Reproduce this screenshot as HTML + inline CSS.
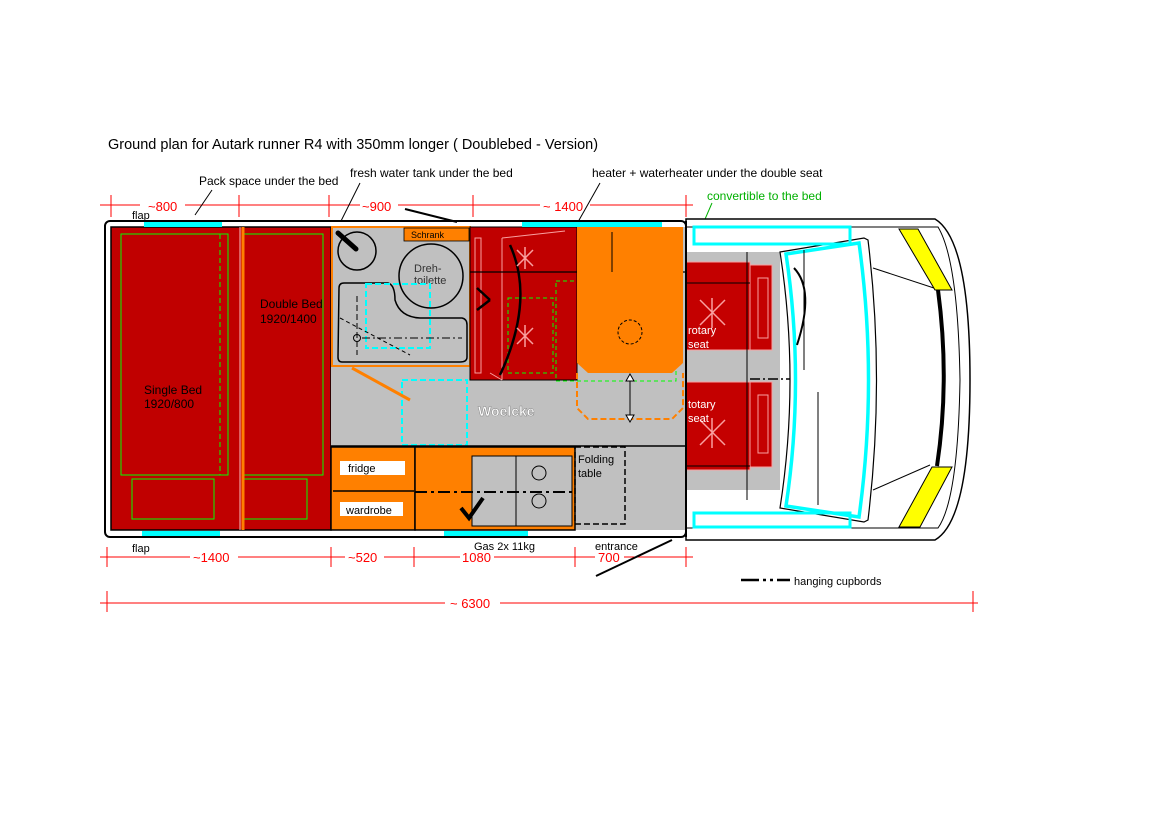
<!DOCTYPE html>
<html><head><meta charset="utf-8"><style>
html,body{margin:0;padding:0;background:#fff}
svg{display:block;font-family:"Liberation Sans",Arial,sans-serif}
</style></head><body>
<svg width="1169" height="826" viewBox="0 0 1169 826" xmlns="http://www.w3.org/2000/svg">
<rect width="1169" height="826" fill="#fff"/>
<text x="108" y="149" font-size="14.5">Ground plan for Autark runner R4 with 350mm longer  (  Doublebed - Version)</text>
<text x="199" y="185" font-size="12">Pack space under the bed</text>
<text x="350" y="177" font-size="12">fresh water tank under the bed</text>
<text x="592" y="177" font-size="12">heater + waterheater under the double seat</text>
<text x="707" y="200" font-size="12" fill="#00b000">convertible to the bed</text>
<!-- top dims -->
<g stroke="#f00" stroke-width="1">
<line x1="100" y1="205" x2="140" y2="205"/><line x1="185" y1="205" x2="360" y2="205"/><line x1="398" y1="205" x2="540" y2="205"/><line x1="590" y1="205" x2="693" y2="205"/>
<line x1="111" y1="195" x2="111" y2="217"/><line x1="239" y1="195" x2="239" y2="217"/><line x1="329" y1="195" x2="329" y2="217"/><line x1="473" y1="195" x2="473" y2="217"/><line x1="686" y1="195" x2="686" y2="217"/>
<line x1="100" y1="557" x2="190" y2="557"/><line x1="238" y1="557" x2="345" y2="557"/><line x1="384" y1="557" x2="460" y2="557"/><line x1="494" y1="557" x2="595" y2="557"/><line x1="624" y1="557" x2="693" y2="557"/>
<line x1="107" y1="547" x2="107" y2="567"/><line x1="331" y1="547" x2="331" y2="567"/><line x1="414" y1="547" x2="414" y2="567"/><line x1="575" y1="547" x2="575" y2="567"/><line x1="686" y1="547" x2="686" y2="567"/>
<line x1="100" y1="603" x2="445" y2="603"/><line x1="500" y1="603" x2="978" y2="603"/>
<line x1="107" y1="591" x2="107" y2="612"/><line x1="973" y1="591" x2="973" y2="612"/>
</g>
<g fill="#f00" font-size="13">
<text x="148" y="211">~800</text><text x="362" y="211">~900</text><text x="543" y="211">~ 1400</text>
<text x="193" y="562">~1400</text><text x="348" y="562">~520</text><text x="462" y="562">1080</text><text x="598" y="562">700</text>
<text x="450" y="608">~ 6300</text>
</g>
<text x="132" y="219" font-size="11">flap</text>
<text x="132" y="552" font-size="11">flap</text>
<text x="474" y="550" font-size="11">Gas 2x 11kg</text>
<text x="595" y="550" font-size="11">entrance</text>
<line x1="741" y1="580" x2="790" y2="580" stroke="#000" stroke-width="2.5" stroke-dasharray="18,4,3,4,3,4"/>
<text x="794" y="585" font-size="11">hanging cupbords</text>
<!-- leader lines -->
<g stroke="#000" stroke-width="1"><line x1="195" y1="215" x2="212" y2="190"/><line x1="323" y1="257" x2="360" y2="183"/><line x1="565" y1="245" x2="600" y2="183"/></g>
<line x1="683" y1="270" x2="712" y2="203" stroke="#00b000"/>
<!-- cab -->
<path d="M686 219 L935 219 Q970 240 970 380 Q970 520 935 540 L686 540 Z" fill="#fff" stroke="#000" stroke-width="1.5"/>
<path d="M686 227 L938 227 Q958 260 960 380 Q958 500 938 528 L686 528" fill="none" stroke="#000" stroke-width="1"/>
<rect x="686" y="252" width="94" height="238" fill="#c0c0c0"/>
<path d="M780 252 L864 238 L868 240 Q885 380 868 520 L864 522 L780 508 Q800 380 780 252Z" fill="#fff" stroke="#000" stroke-width="1.2"/>
<path d="M786 254 L859 243 Q878 380 859 517 L786 506 Q805 380 786 254Z" fill="none" stroke="#0ff" stroke-width="3.5"/>
<line x1="804" y1="250" x2="804" y2="370" stroke="#000"/><line x1="804" y1="370" x2="818" y2="392"/><line x1="818" y1="392" x2="818" y2="505" stroke="#000"/>
<path d="M794 268 Q815 290 797 345" fill="none" stroke="#000" stroke-width="2"/>
<line x1="873" y1="268" x2="940" y2="290" stroke="#000"/><line x1="873" y1="490" x2="930" y2="465" stroke="#000"/>
<path d="M938 290 Q950 380 937 466" fill="none" stroke="#000" stroke-width="4"/>
<polygon points="899,229 918,229 952,290 935,290" fill="#ff0" stroke="#000"/>
<polygon points="932,467 952,467 920,527 899,527" fill="#ff0" stroke="#000"/>
<rect x="694" y="227" width="156" height="17" fill="none" stroke="#0ff" stroke-width="3"/>
<rect x="694" y="513" width="156" height="14" fill="none" stroke="#0ff" stroke-width="3"/>
<!-- cab seats -->
<g fill="#c40000" stroke="#f9a0a0" stroke-width="1">
<rect x="686" y="262" width="64" height="88"/><rect x="750" y="265" width="22" height="85"/><rect x="758" y="278" width="10" height="60" fill="none"/>
<rect x="686" y="382" width="64" height="88"/><rect x="750" y="382" width="22" height="85"/><rect x="758" y="395" width="10" height="58" fill="none"/>
</g>
<g stroke="#f9a0a0" stroke-width="1.5"><path d="M700 300 l25 25 M725 300 l-25 25 M712 298 v30"/><path d="M700 420 l25 25 M725 420 l-25 25 M712 418 v30"/></g>
<g fill="#fff" font-size="11"><text x="688" y="334">rotary</text><text x="688" y="348">seat</text><text x="688" y="408">totary</text><text x="688" y="422">seat</text></g>
<line x1="686" y1="283" x2="750" y2="283" stroke="#000"/><line x1="686" y1="466" x2="750" y2="466" stroke="#000"/>
<line x1="747" y1="252" x2="747" y2="500" stroke="#000"/>
<line x1="750" y1="379" x2="790" y2="379" stroke="#000" stroke-width="1.5" stroke-dasharray="10,3,2,3"/>
<!-- body -->
<rect x="105" y="221" width="581" height="316" rx="5" fill="#fff" stroke="#000" stroke-width="2"/>
<rect x="111" y="227" width="220" height="303" fill="#c00000" stroke="#000" stroke-width="1.5"/>
<rect x="331" y="227" width="355" height="303" fill="#c0c0c0"/>
<rect x="121" y="234" width="107" height="241" fill="none" stroke="#0f0"/>
<rect x="243" y="234" width="80" height="241" fill="none" stroke="#0f0"/>
<line x1="220" y1="234" x2="220" y2="475" stroke="#0f0" stroke-dasharray="5,3"/>
<rect x="132" y="479" width="82" height="40" fill="none" stroke="#0f0"/>
<rect x="244" y="479" width="63" height="40" fill="none" stroke="#0f0"/>
<line x1="240" y1="227" x2="240" y2="530" stroke="#f8c0c0"/>
<line x1="243" y1="227" x2="243" y2="530" stroke="#ff8000" stroke-width="3"/>
<text x="144" y="394" font-size="12">Single Bed</text><text x="144" y="408" font-size="12">1920/800</text>
<text x="260" y="308" font-size="12">Double Bed</text><text x="260" y="323" font-size="12">1920/1400</text>
<!-- bathroom -->
<rect x="332" y="227" width="138" height="139" fill="#c0c0c0" stroke="#ff8000" stroke-width="2"/>
<rect x="404" y="228" width="65" height="13" fill="#ff8000" stroke="#000" stroke-width="0.8"/>
<text x="411" y="238" font-size="9">Schrank</text>
<circle cx="357" cy="251" r="19" fill="#c0c0c0" stroke="#000" stroke-width="1.5"/>
<line x1="338" y1="233" x2="356" y2="249" stroke="#000" stroke-width="5" stroke-linecap="round"/>
<circle cx="431" cy="276" r="32" fill="#c0c0c0" stroke="#000" stroke-width="1.5"/>
<text x="414" y="272" font-size="11" fill="#333">Dreh-</text><text x="414" y="284" font-size="11" fill="#333">toilette</text>
<path d="M339 288 Q339 283 344 283 L388 283 Q395 285 395 300 Q400 317 420 318 L462 318 Q467 319 467 325 L467 357 Q467 362 460 362 L342 362 Q338 362 338 357 Z" fill="none" stroke="#000" stroke-width="1.5"/>
<rect x="366" y="284" width="64" height="64" fill="none" stroke="#0ff" stroke-width="2" stroke-dasharray="6,3"/>
<circle cx="357" cy="338" r="3.5" fill="none" stroke="#000"/>
<line x1="362" y1="338" x2="462" y2="338" stroke="#000" stroke-dasharray="8,3,2,3"/>
<line x1="357" y1="296" x2="357" y2="355" stroke="#000" stroke-dasharray="6,3"/>
<line x1="340" y1="318" x2="410" y2="355" stroke="#000" stroke-dasharray="4,3"/>
<!-- corridor -->
<rect x="402" y="380" width="65" height="65" fill="none" stroke="#0ff" stroke-width="2" stroke-dasharray="6,3"/>
<line x1="352" y1="368" x2="410" y2="400" stroke="#ff8000" stroke-width="3"/>
<text x="478" y="416" font-size="14" font-weight="bold" fill="#fff" stroke="#888" stroke-width="0.5">Woelcke</text>
<line x1="331" y1="446" x2="686" y2="446" stroke="#000" stroke-width="1.5"/>
<!-- fridge / kitchen -->
<rect x="331" y="447" width="84" height="83" fill="#ff8000" stroke="#000" stroke-width="1.5"/>
<rect x="340" y="461" width="65" height="14" fill="#fff"/><text x="348" y="472" font-size="11">fridge</text>
<rect x="340" y="502" width="63" height="14" fill="#fff"/><text x="346" y="514" font-size="11">wardrobe</text>
<line x1="333" y1="491" x2="414" y2="491" stroke="#000" stroke-width="1.5"/>
<rect x="415" y="447" width="160" height="83" fill="#ff8000" stroke="#000" stroke-width="1.5"/>
<rect x="472" y="456" width="100" height="70" fill="#c0c0c0" stroke="#000"/>
<rect x="472" y="456" width="44" height="70" fill="none" stroke="#000"/>
<circle cx="539" cy="473" r="7" fill="none" stroke="#000"/><circle cx="539" cy="501" r="7" fill="none" stroke="#000"/>
<line x1="415" y1="492" x2="575" y2="492" stroke="#000" stroke-width="2" stroke-dasharray="12,4,3,4"/>
<path d="M461 508 l8 10 l14 -20" fill="none" stroke="#000" stroke-width="4"/>
<rect x="575" y="447" width="50" height="77" fill="none" stroke="#000" stroke-width="1.5" stroke-dasharray="6,3"/>
<text x="578" y="463" font-size="11">Folding</text><text x="578" y="477" font-size="11">table</text>
<!-- seats block -->
<rect x="470" y="227" width="107" height="153" fill="#c00000" stroke="#000"/>
<rect x="475" y="238" width="6" height="135" fill="none" stroke="#f9a0a0"/>
<path d="M502 238 L565 231 M502 380 L490 373 M502 238 V380" stroke="#f9a0a0" fill="none"/>
<line x1="470" y1="272" x2="686" y2="272" stroke="#000" stroke-width="1.2"/>
<rect x="508" y="298" width="45" height="75" fill="none" stroke="#0f0" stroke-dasharray="4,3"/>
<rect x="556" y="281" width="120" height="100" fill="none" stroke="#0f0" stroke-dasharray="4,3"/>
<path d="M510 245 Q535 300 500 375" fill="none" stroke="#000" stroke-width="2.5"/>
<path d="M477 288 L490 300 M477 310 L490 300" stroke="#000" stroke-width="2.5"/>
<g stroke="#f9a0a0" stroke-width="1.5"><path d="M517 250 l16 16 M533 250 l-16 16 M525 247 v22"/><path d="M517 328 l16 16 M533 328 l-16 16 M525 325 v22"/></g>
<path d="M577 227 L683 227 L683 363 L672 373 L588 373 L577 363 Z" fill="#ff8000"/>
<line x1="612" y1="232" x2="612" y2="272" stroke="#000"/>
<circle cx="630" cy="332" r="12" fill="none" stroke="#000" stroke-dasharray="3,2"/>
<path d="M577 373 L577 408 L588 419 L672 419 L683 408 L683 373" fill="none" stroke="#ff8000" stroke-width="2" stroke-dasharray="6,3"/>
<line x1="630" y1="378" x2="630" y2="418" stroke="#000"/>
<path d="M626 381 L630 374 L634 381Z M626 415 L630 422 L634 415Z" fill="#fff" stroke="#000"/>
<!-- cyan windows -->
<g fill="#0ff"><rect x="144" y="222" width="78" height="5"/><rect x="142" y="531" width="78" height="5"/><rect x="522" y="222" width="140" height="5"/><rect x="444" y="531" width="84" height="5"/></g>
<line x1="686" y1="221" x2="686" y2="537" stroke="#000" stroke-width="2"/>
<!-- doors -->
<line x1="405" y1="209" x2="457" y2="222" stroke="#000" stroke-width="2"/>
<line x1="596" y1="576" x2="672" y2="540" stroke="#000" stroke-width="2"/>
</svg>
</body></html>
